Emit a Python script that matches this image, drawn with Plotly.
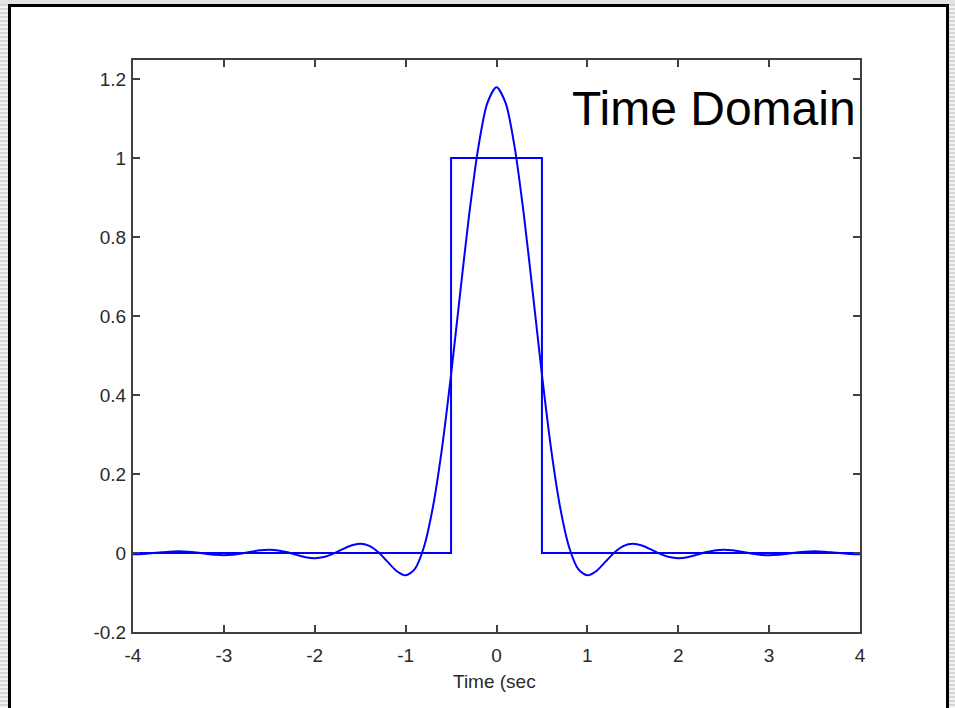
import plotly.graph_objects as go

# Band-limited pulse response, read at t = 0, 0.1, ..., 4.0 (symmetric about t = 0)
t_half = [round(0.1 * i, 1) for i in range(41)]
y_half = [1.17898, 1.13950, 1.02701, 0.85827, 0.65744, 0.45141, 0.26483, 0.11593,
          0.01407, -0.04078, -0.05640, -0.04546, -0.02196, 0.00195, 0.01820, 0.02356,
          0.01916, 0.00896, -0.00219, -0.01021, -0.01299, -0.01058, -0.00480, 0.00171,
          0.00653, 0.00824, 0.00671, 0.00298, -0.00131, -0.00453, -0.00569, -0.00464,
          -0.00202, 0.00102, 0.00333, 0.00417, 0.00339, 0.00146, -0.00081, -0.00255,
          -0.00319]
t_curve = [-v for v in t_half[:0:-1]] + t_half
y_curve = y_half[:0:-1] + y_half

# Ideal rectangular pulse
t_rect = [-4, -0.5, -0.5, 0.5, 0.5, 4]
y_rect = [0, 0, 1, 1, 0, 0]

x_ticks = [-4, -3, -2, -1, 0, 1, 2, 3, 4]
x_tick_text = ["-4", "-3", "-2", "-1", "0", "1", "2", "3", "4"]
y_ticks = [-0.2, 0, 0.2, 0.4, 0.6, 0.8, 1, 1.2]
y_tick_text = ["-0.2", "0", "0.2", "0.4", "0.6", "0.8", "1", "1.2"]

W, H = 955, 708
L, R, T, B = 133, 95, 60, 76
pw, ph = W - L - R, H - T - B


def px(x):
    return (x - L) / pw


def py(y):
    return 1 - (y - T) / ph


FONT = "Liberation Sans, Arial, sans-serif"
blue = "#0000ff"
fig = go.Figure()
fig.add_trace(go.Scatter(x=t_rect, y=y_rect, mode="lines",
                         line=dict(color=blue, width=2), hoverinfo="skip"))
fig.add_trace(go.Scatter(x=t_curve, y=y_curve, mode="lines", line_shape="spline",
                         line=dict(color=blue, width=2, smoothing=0.8), hoverinfo="skip"))

axis_common = dict(showline=True, linecolor="#404040", linewidth=2, mirror="ticks",
                   ticks="inside", ticklen=7, tickcolor="#404040", tickwidth=1.5,
                   showgrid=False, zeroline=False,
                   tickfont=dict(family=FONT, size=19, color="#2a2a2a"))

# decorative striped margins of the slide
stripe_path = ""
for yy in range(0, H, 4):
    for x0, x1 in ((0, 8), (949, W)):
        stripe_path += "M{:.5f},{:.5f}H{:.5f}V{:.5f}H{:.5f}Z".format(
            px(x0), py(yy), px(x1), py(yy + 2), px(x0))

fig.update_layout(
    width=W, height=H,
    margin=dict(l=L, r=R, t=T, b=B),
    paper_bgcolor="#f3f3f3",
    plot_bgcolor="rgba(0,0,0,0)",
    showlegend=False,
    xaxis=dict(range=[-4, 4], tickvals=x_ticks, ticktext=x_tick_text,
               ticklabelstandoff=5, **axis_common),
    yaxis=dict(range=[-0.2, 1.248], tickvals=y_ticks, ticktext=y_tick_text,
               ticklabelstandoff=1, **axis_common),
    shapes=[
        dict(type="path", xref="paper", yref="paper", layer="below", path=stripe_path,
             fillcolor="#d6d6d6", line=dict(width=0)),
        dict(type="rect", xref="paper", yref="paper", layer="below",
             x0=px(0), x1=px(W), y0=py(0), y1=py(4),
             fillcolor="#e2e2e2", line=dict(width=0)),
        dict(type="rect", xref="paper", yref="paper", layer="below",
             x0=px(9.5), x1=px(947.5), y0=py(5.5), y1=py(720),
             fillcolor="white", line=dict(color="black", width=3)),
    ],
    annotations=[
        dict(text="Time Domain", xref="paper", yref="paper", x=px(858), y=py(108),
             xanchor="right", yanchor="middle", showarrow=False,
             font=dict(family=FONT, size=48, color="black")),
        dict(text="Time (sec", xref="paper", yref="paper", x=px(494), y=py(681),
             xanchor="center", yanchor="middle", showarrow=False,
             font=dict(family=FONT, size=19, color="#2a2a2a")),
    ],
)

fig.write_html("out.html", config={"displayModeBar": False},
               post_script="document.body.style.margin='0';")
